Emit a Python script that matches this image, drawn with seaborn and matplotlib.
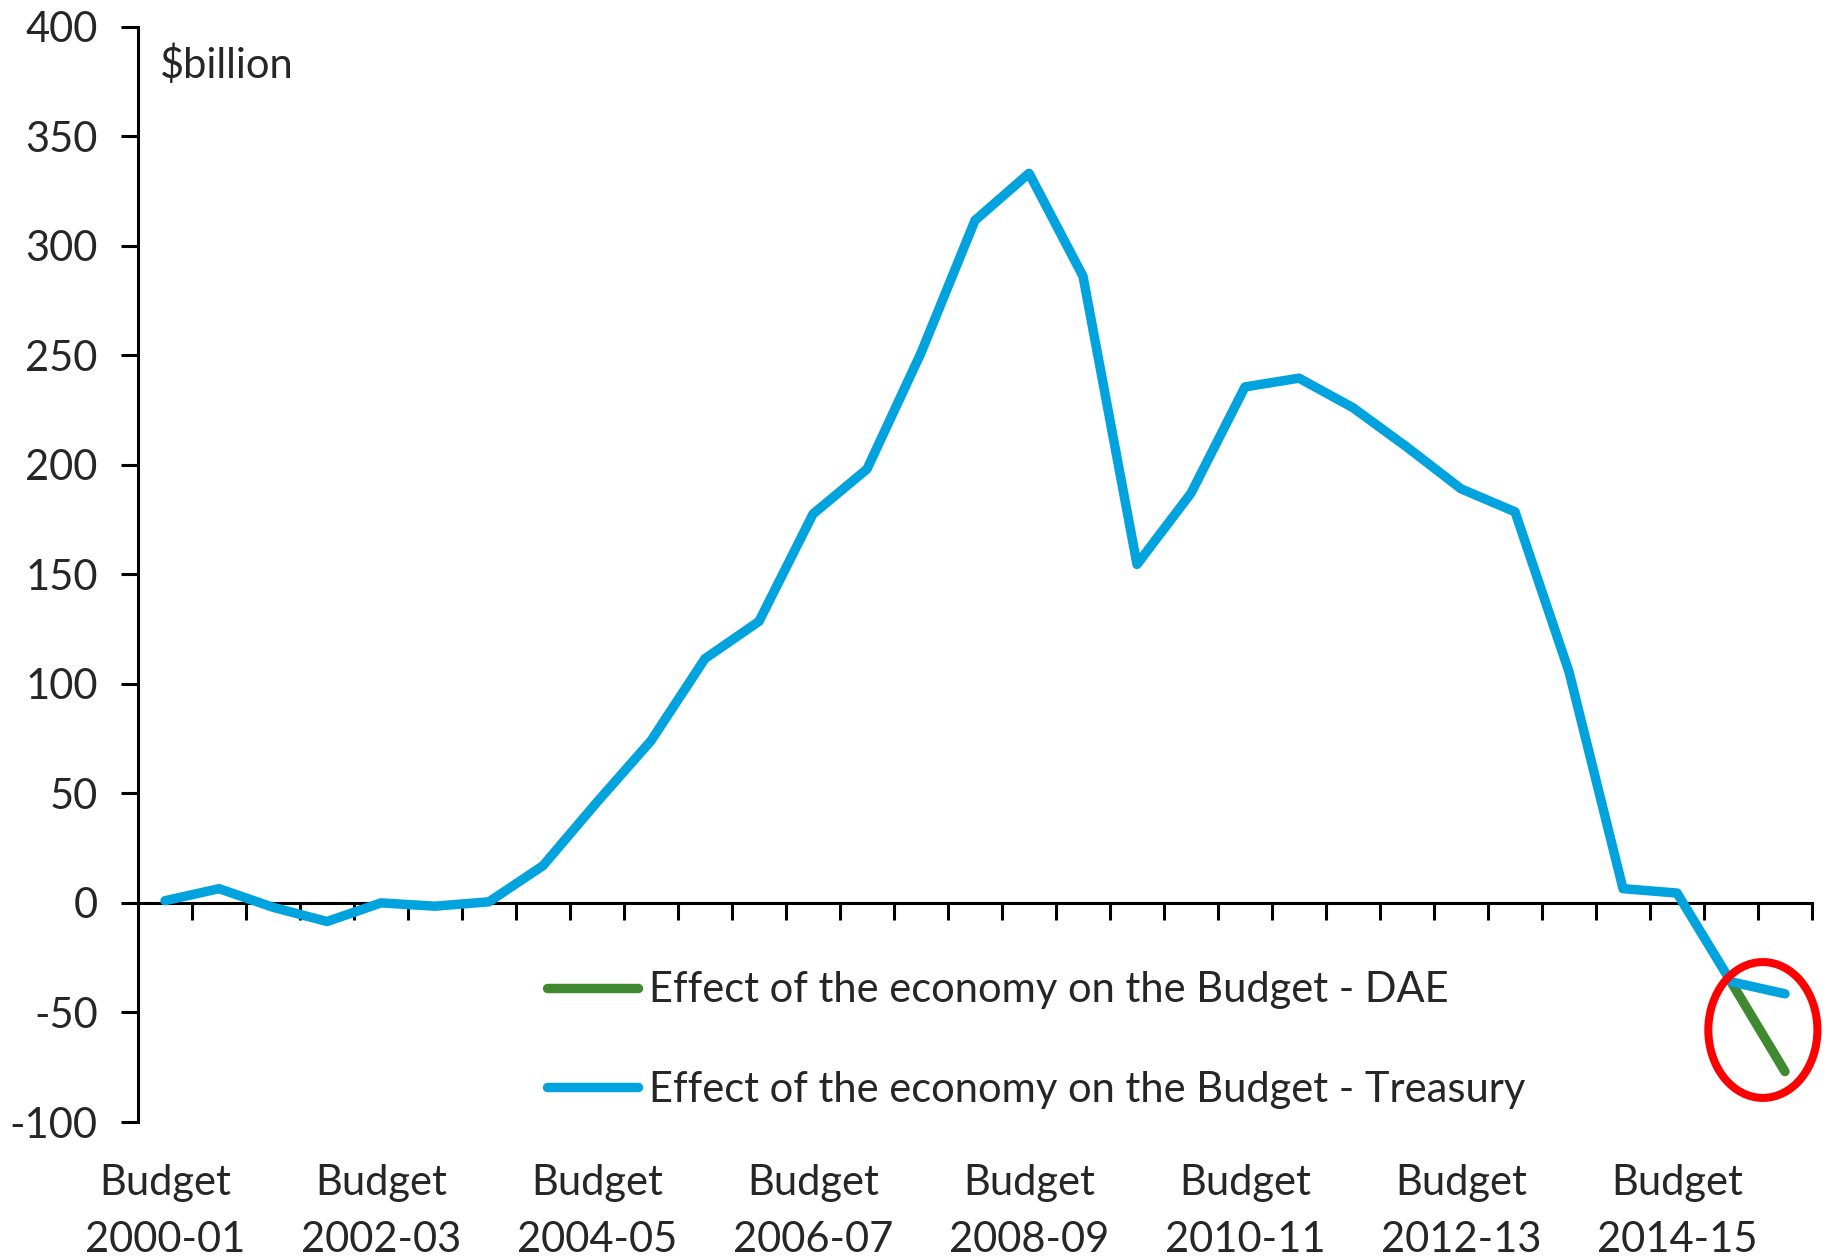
import matplotlib
matplotlib.use("Agg")
import matplotlib.pyplot as plt
from matplotlib.patches import Ellipse
import seaborn as sns
import pandas as pd
import numpy as np

# Half-yearly fiscal updates: Budget and MYEFO for each year
years = ["2000-01", "2001-02", "2002-03", "2003-04", "2004-05", "2005-06",
         "2006-07", "2007-08", "2008-09", "2009-10", "2010-11", "2011-12",
         "2012-13", "2013-14", "2014-15"]
periods = []
for yr in years:
    periods += [f"Budget {yr}", f"MYEFO {yr}"]
periods.append("Budget 2015-16")

# Effect of the economy on the Budget, $billion
treasury = [1, 6.5, -2, -8.5, 0, -1.5, 0.5, 17, 46, 74, 111.5, 128.5,
            177.5, 198, 251, 311.5, 333, 286, 154.5, 187, 235.5, 239.5,
            226, 208, 189, 178.5, 105.5, 6.5, 4.5, -36, -41.5]
dae_periods = ["MYEFO 2014-15", "Budget 2015-16"]
dae = [-36, -77]

label_every = 4
tick_labels = [p.replace(" ", "\n") for p in periods[::label_every]]

BLUE = "#00A3DE"
GREEN = "#3F8A30"
FS = 30
LW = 6.8

sns.set_theme(style="white")
plt.rcParams["font.family"] = ["Lato", "DejaVu Sans"]
plt.rcParams["axes.unicode_minus"] = False

fig = plt.figure(figsize=(18.33, 12.58), dpi=100)
W, H = 1833, 1258
left, right, top, bottom = 138, 1812, 26.5, 1122
ax = fig.add_axes([left / W, 1 - bottom / H, (right - left) / W, (bottom - top) / H])

pos = {p: i for i, p in enumerate(periods)}
df_t = pd.DataFrame({"x": np.arange(len(periods)), "value": treasury})
df_d = pd.DataFrame({"x": [pos[p] for p in dae_periods], "value": dae})

sns.lineplot(data=df_d, x="x", y="value", ax=ax, color=GREEN, lw=LW,
             label="Effect of the economy on the Budget - DAE",
             solid_capstyle="round", zorder=3)
sns.lineplot(data=df_t, x="x", y="value", ax=ax, color=BLUE, lw=LW,
             label="Effect of the economy on the Budget - Treasury",
             solid_capstyle="round", zorder=4)

ax.set_xlim(-0.5, len(periods) - 0.5)
ax.set_ylim(-100, 400)
ax.set_yticks(np.arange(-100, 401, 50))
ax.set_xticks(np.arange(0, len(periods), label_every))
ax.set_xticklabels(tick_labels, fontsize=FS, linespacing=1.62)
ax.tick_params(axis="x", length=0, pad=30)
ax.tick_params(axis="y", direction="out", length=12, width=2.2, pad=17,
               labelsize=FS, left=True, color="black")
ax.set_xlabel("")
ax.set_ylabel("")

for s in ["top", "right", "bottom"]:
    ax.spines[s].set_visible(False)
ax.spines["left"].set_color("black")
ax.spines["left"].set_linewidth(2.2)

# category axis drawn along the zero line
sec = ax.secondary_xaxis(0.2)
sec.set_xticks(np.arange(0.5, len(periods), 1.0))
sec.set_xticklabels([])
sec.tick_params(direction="out", length=12, width=2.2, color="black")
sec.spines["bottom"].set_color("black")
sec.spines["bottom"].set_linewidth(2.2)

ax.text(0.013, 0.965, "$billion", transform=ax.transAxes, fontsize=FS,
        ha="left", va="center")

ax.add_patch(Ellipse((29.59, -58), 2.02, 62, fill=False, ec="#FF0000",
                     lw=5.8, zorder=5, clip_on=False))

leg = ax.legend(loc="center left", bbox_to_anchor=(547 / W, 1 - 1040 / H),
                bbox_transform=fig.transFigure, frameon=False, fontsize=FS,
                handlelength=2.18, handletextpad=0.26, labelspacing=1.47,
                borderpad=0, borderaxespad=0)
for line in leg.get_lines():
    line.set_solid_capstyle("round")
    line.set_linewidth(LW)

fig.savefig("out.png", dpi=100)
